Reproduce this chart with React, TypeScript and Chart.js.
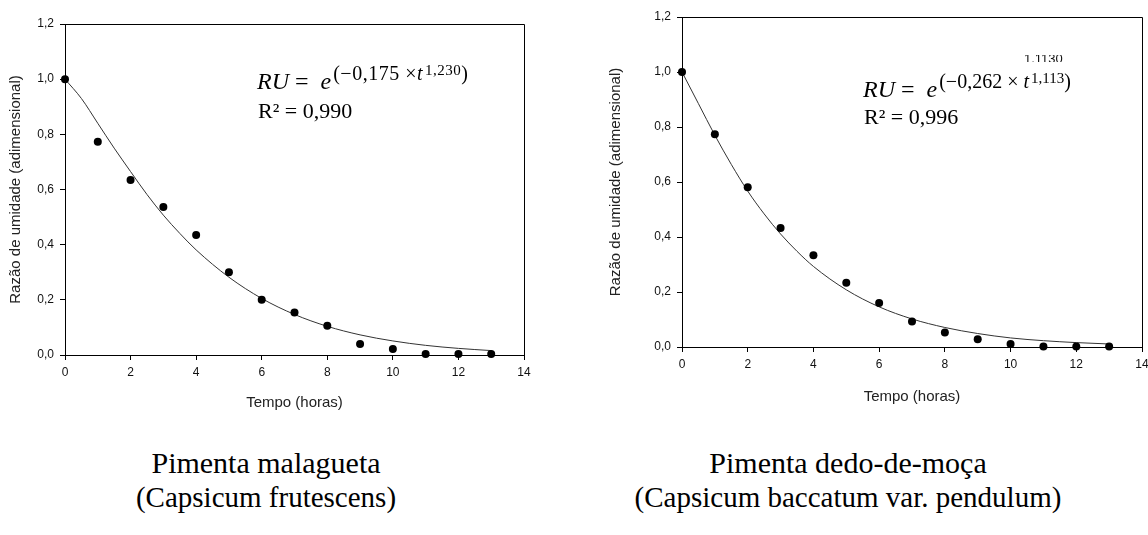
import React, { useEffect, useRef } from "react";
import { Chart, registerables } from "chart.js";

Chart.register(...registerables);

// ---------- data ----------
const TIMES = [0, 1, 2, 3, 4, 5, 6, 7, 8, 9, 10, 11, 12, 13];
const MALAGUETA_RU = [1.0, 0.773, 0.634, 0.537, 0.435, 0.3, 0.2, 0.154, 0.106, 0.04, 0.022, 0.004, 0.004, 0.004];
const DEDO_RU = [1.0, 0.774, 0.581, 0.433, 0.334, 0.234, 0.16, 0.093, 0.053, 0.028, 0.011, 0.002, 0.002, 0.002];

const CURVE_TIMES = [0, 0.5, 1, 1.5, 2, 2.5, 3, 3.5, 4, 5, 6, 7, 8, 9, 10, 11, 12, 13];
const MALAGUETA_FIT = [1.0, 0.93, 0.84, 0.75, 0.665, 0.582, 0.507, 0.441, 0.381, 0.282, 0.205, 0.147, 0.104, 0.073, 0.051, 0.035, 0.024, 0.016];
const DEDO_FIT = [1.0, 0.885, 0.77, 0.664, 0.567, 0.484, 0.411, 0.348, 0.293, 0.208, 0.146, 0.102, 0.071, 0.049, 0.033, 0.023, 0.016, 0.011];

const X_MIN = 0;
const X_MAX = 14;
const X_STEP = 2;
const Y_MIN = 0;
const Y_MAX = 1.2;
const Y_STEP = 0.2;

const X_TITLE = "Tempo (horas)";
const Y_TITLE = "Razão de umidade (adimensional)";

const SANS = '"Liberation Sans", Arial, sans-serif';
const SERIF = '"Liberation Serif", "Times New Roman", serif';

const framePlugin = {
  id: "frame",
  beforeDatasetsDraw(chart: any) {
    const { ctx, chartArea } = chart;
    const { left, top, right, bottom } = chartArea;
    ctx.save();
    ctx.strokeStyle = "#000";
    ctx.lineWidth = 1;
    ctx.beginPath();
    ctx.moveTo(left, top + 0.5);
    ctx.lineTo(right + 0.5, top + 0.5);
    ctx.lineTo(right + 0.5, bottom + 1);
    ctx.stroke();
    ctx.restore();
  },
};

type PanelProps = {
  left: number;
  width: number;
  height: number;
  padding: { left: number; top: number; right: number; bottom: number };
  yWidth: number;
  xHeight: number;
  points: number[];
  fit: number[];
};

function Panel(p: PanelProps) {
  const ref = useRef<HTMLCanvasElement | null>(null);
  useEffect(() => {
    if (!ref.current) return;
    const chart = new Chart(ref.current, {
      type: "scatter",
      data: {
        datasets: [
          {
            data: TIMES.map((t, i) => ({ x: t, y: p.points[i] })),
            showLine: false,
            pointRadius: 4,
            pointHoverRadius: 4,
            pointBackgroundColor: "#000",
            pointBorderColor: "#000",
            pointBorderWidth: 0,
            clip: false as any,
          },
          {
            data: CURVE_TIMES.map((t, i) => ({ x: t, y: p.fit[i] })),
            showLine: true,
            borderColor: "#333",
            borderWidth: 1,
            pointRadius: 0,
            cubicInterpolationMode: "monotone",
            fill: false,
          } as any,
        ],
      },
      options: {
        animation: false,
        responsive: false,
        maintainAspectRatio: false,
        events: [],
        layout: { padding: p.padding },
        plugins: { legend: { display: false }, tooltip: { enabled: false } },
        scales: {
          x: {
            type: "linear",
            min: X_MIN,
            max: X_MAX,
            ticks: {
              stepSize: X_STEP,
              autoSkip: false,
              maxRotation: 0,
              padding: 5,
              color: "#111",
              font: { family: SANS, size: 12 },
              callback: (v: any) => String(v),
            },
            grid: { drawOnChartArea: false, drawTicks: true, tickLength: 5, color: "#000" },
            border: { display: true, color: "#000", width: 1 },
            title: {
              display: true,
              text: X_TITLE,
              color: "#222",
              font: { family: SANS, size: 15 },
              padding: 0,
            },
            afterFit: (s: any) => {
              s.height = p.xHeight;
              s.paddingLeft = 0;
              s.paddingRight = 0;
            },
          },
          y: {
            type: "linear",
            min: Y_MIN,
            max: Y_MAX,
            ticks: {
              stepSize: Y_STEP,
              autoSkip: false,
              padding: 6,
              color: "#111",
              font: { family: SANS, size: 12 },
              callback: (v: any) => Number(v).toFixed(1).replace(".", ","),
            },
            grid: { drawOnChartArea: false, drawTicks: true, tickLength: 5, color: "#000" },
            border: { display: true, color: "#000", width: 1 },
            title: {
              display: true,
              text: Y_TITLE,
              color: "#222",
              font: { family: SANS, size: 15 },
              padding: 0,
            },
            afterFit: (s: any) => {
              s.width = p.yWidth;
              s.paddingTop = 0;
              s.paddingBottom = 0;
            },
          },
        },
      } as any,
      plugins: [framePlugin],
    });
    return () => chart.destroy();
  }, []);
  return (
    <canvas
      ref={ref}
      width={p.width}
      height={p.height}
      style={{ position: "absolute", left: p.left, top: 0, width: p.width, height: p.height }}
    />
  );
}

function Equation(props: { left: number; top: number; k: string; n: string; spaced: boolean }) {
  return (
    <div
      style={{
        position: "absolute",
        left: props.left,
        top: props.top,
        fontFamily: SERIF,
        fontSize: 24,
        lineHeight: "24px",
        color: "#000",
        whiteSpace: "nowrap",
      }}
    >
      <i>RU</i>
      <span style={{ marginLeft: 6, marginRight: 12 }}>=</span>
      <i>e</i>
      <span
        style={{
          fontSize: 20,
          position: "relative",
          top: -9,
          marginLeft: 2,
          letterSpacing: props.spaced ? 0 : 0.5,
        }}
      >
        (−{props.k} {props.spaced ? "× " : "×"}
        <i>t</i>
        <span style={{ fontSize: 15, position: "relative", top: -5, marginLeft: 2 }}>{props.n}</span>)
      </span>
    </div>
  );
}

function R2(props: { left: number; top: number; value: string }) {
  return (
    <div
      style={{
        position: "absolute",
        left: props.left,
        top: props.top,
        fontFamily: SERIF,
        fontSize: 22,
        lineHeight: "22px",
        color: "#000",
        whiteSpace: "nowrap",
      }}
    >
      R² = {props.value}
    </div>
  );
}

function Caption(props: { left: number; width: number; lines: string[] }) {
  return (
    <div
      style={{
        position: "absolute",
        left: props.left,
        top: 446,
        width: props.width,
        textAlign: "center",
        fontFamily: SERIF,
        lineHeight: "34px",
        color: "#000",
        whiteSpace: "nowrap",
      }}
    >
      {props.lines.map((l, i) => (
        <div key={i} style={{ fontSize: i === 0 ? 30 : 29 }}>
          {l}
        </div>
      ))}
    </div>
  );
}

export default function App() {
  return (
    <div
      style={{
        position: "absolute",
        left: 0,
        top: 0,
        width: 1148,
        height: 535,
        overflow: "hidden",
        background: "#fff",
      }}
    >
      <Panel
        left={0}
        width={574}
        height={430}
        padding={{ left: 7, top: 24, right: 50, bottom: 18 }}
        yWidth={58}
        xHeight={57}
        points={MALAGUETA_RU}
        fit={MALAGUETA_FIT}
      />
      <Panel
        left={574}
        width={574}
        height={430}
        padding={{ left: 33, top: 17, right: 6, bottom: 24 }}
        yWidth={75}
        xHeight={59}
        points={DEDO_RU}
        fit={DEDO_FIT}
      />
      <Equation left={257} top={69} k="0,175" n="1,230" spaced={false} />
      <R2 left={258} top={100} value="0,990" />
      <div style={{ position: "absolute", left: 1024, top: 55, height: 7, width: 50, overflow: "hidden" }}>
        <span
          style={{
            position: "relative",
            top: -3.5,
            fontFamily: SANS,
            fontSize: 13,
            lineHeight: "13px",
            color: "#111",
            display: "block",
          }}
        >
          1,1130
        </span>
      </div>
      <Equation left={863} top={77} k="0,262" n="1,113" spaced={true} />
      <R2 left={864} top={106} value="0,996" />
      <Caption left={66} width={400} lines={["Pimenta malagueta", "(Capsicum frutescens)"]} />
      <Caption left={598} width={500} lines={["Pimenta dedo-de-moça", "(Capsicum baccatum var. pendulum)"]} />
    </div>
  );
}
